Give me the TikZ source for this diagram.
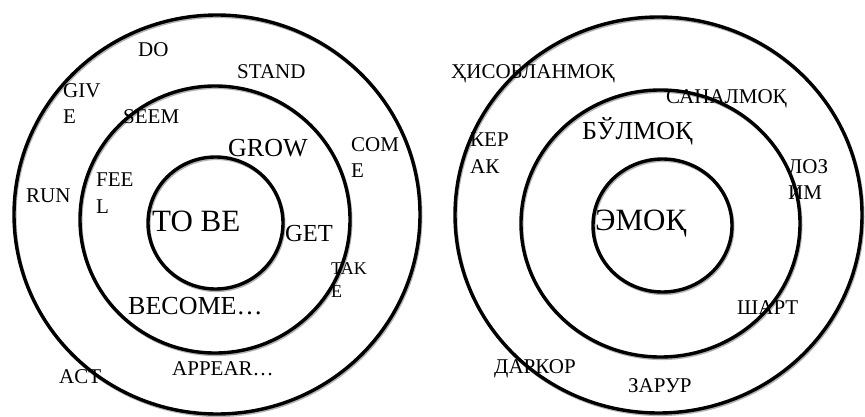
\documentclass[tikz,border=0pt]{standalone}
\usepackage{fontspec}
\setmainfont{Liberation Serif}
\usepackage{tikz}
\usetikzlibrary{shapes.geometric}

\begin{document}
\begin{tikzpicture}[
      x=1pt, y=-1pt,
      ring/.style={draw, ellipse, line width=3.4pt, inner sep=0pt,
        preaction={draw=black!30, line width=3pt, transform canvas={shift={(1pt,-1.6pt)}}}},
      lbl/.style={inner sep=0pt, anchor=base west, font=\fontsize{21}{26}\selectfont},
      lbl2/.style={inner sep=0pt, anchor=north west, align=left, font=\fontsize{21}{26.5}\selectfont}
    ]
      \useasboundingbox (0,0) rectangle (865,417);
      % left rings
      \node[ring, minimum width=406pt, minimum height=399pt] (outerL) at (217,214.5) {};
      \node[ring, minimum width=270pt, minimum height=267pt] (middleL) at (215,219.5) {};
      \node[ring, minimum width=135pt, minimum height=132pt] (innerL) at (215.5,223) {};
      % right rings
      \node[ring, minimum width=407pt, minimum height=396pt] (outerR) at (658.5,215) {};
      \node[ring, minimum width=279pt, minimum height=267pt] (middleR) at (660.5,223.5) {};
      \node[ring, minimum width=139pt, minimum height=133pt] (innerR) at (662.5,225.5) {};
      % left labels
      \node[lbl] (do) at (138,57) {DO};
      \node[lbl] (stand) at (237,79) {STAND};
      \node[lbl2] (give) at (63,83) {GIV\\E};
      \node[lbl] (seem) at (123,124) {SEEM};
      \node[lbl, font=\fontsize{26}{30}\selectfont] (grow) at (228,157) {GROW};
      \node[lbl2] (come) at (351,137) {COM\\E};
      \node[lbl2] (feel) at (96,173) {FEE\\L};
      \node[lbl] (run) at (26,202) {RUN};
      \node[lbl, font=\fontsize{31}{36}\selectfont] (tobe) at (152,231) {TO BE};
      \node[lbl, font=\fontsize{24.5}{29}\selectfont] (get) at (285,241) {GET};
      \node[lbl2, font=\fontsize{18}{23}\selectfont] (take) at (331,262) {TAK\\E};
      \node[lbl, font=\fontsize{26}{31}\selectfont] (become) at (128,314) {BECOME…};
      \node[lbl] (appear) at (172,375) {APPEAR…};
      \node[lbl] (act) at (59,383) {ACT};
      % right labels
      \node[lbl] (hisob) at (451,79) {ҲИСОБЛАНМОҚ};
      \node[lbl] (sanal) at (666,104) {САНАЛМОҚ};
      \node[lbl, font=\fontsize{26}{31}\selectfont] (bulmoq) at (582,140) {БЎЛМОҚ};
      \node[lbl2] (kerak) at (470,133) {КЕР\\АК};
      \node[lbl2] (lozim) at (788,159) {ЛОЗ\\ИМ};
      \node[lbl, font=\fontsize{31}{36}\selectfont] (emoq) at (595,230) {ЭМОҚ};
      \node[lbl] (shart) at (737,314) {ШАРТ};
      \node[lbl] (darkor) at (494,373) {ДАРКОР};
      \node[lbl] (zarur) at (628,392) {ЗАРУР};
    \end{tikzpicture}
\end{document}
